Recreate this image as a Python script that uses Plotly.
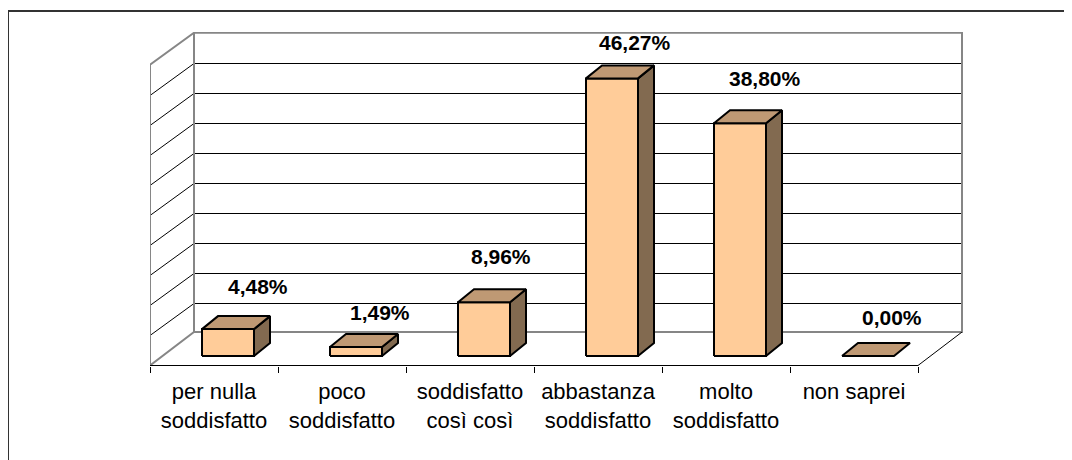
import plotly.graph_objects as go

categories = ["per nulla<br>soddisfatto", "poco<br>soddisfatto", "soddisfatto<br>così così",
              "abbastanza<br>soddisfatto", "molto<br>soddisfatto", "non saprei"]
values = [4.48, 1.49, 8.96, 46.27, 38.80, 0.00]
labels = ["4,48%", "1,49%", "8,96%", "46,27%", "38,80%", "0,00%"]
grid_values = [5, 10, 15, 20, 25, 30, 35, 40, 45]
wall_bottom = 0.25
wall_top = 50.12
label_dx = [13, 7, 0, 6, 8, 7]
label_dy = [30, 22, 33, 23, 32, 26]

# oblique projection: depth z in 0..1 shifts a point right and up on the page
PX_X = 128.0
PX_Y = 6.0
DX = 44.0 / PX_X
DX_BAR = 39.4 / PX_X
DY = 32.0 / PX_Y
BAR_W = 52.0 / 128.0
BAR_SHIFT = 2.3 / 128.0
Z0, Z1 = 9.5 / 32.0, 22.5 / 32.0
n = len(values)


def P(x, y, z, dx=DX):
    return x + z * dx, y + z * DY


def B(x, y, z):
    return P(x, y, z, DX_BAR)


def poly(pts, fill=None, color="#000000", width=1.0):
    xs, ys = zip(*pts)
    return go.Scatter(x=list(xs), y=list(ys), mode="lines", line=dict(color=color, width=width),
                      fill="toself" if fill else None, fillcolor=fill, hoverinfo="skip",
                      showlegend=False, cliponaxis=False)


GREY = "#868686"
fig = go.Figure()

# walls
for g in grid_values:
    fig.add_trace(poly([P(0, g, 0), P(0, g, 1), P(n, g, 1)], color="#000000", width=1))
fig.add_trace(poly([P(0, 0, 0), P(0, wall_top, 0), P(0, wall_top, 1), P(n, wall_top, 1), P(n, wall_bottom, 1),
                    P(0, wall_bottom, 1), P(0, 0, 0)], color=GREY, width=2))
fig.add_trace(poly([P(0, wall_bottom, 1), P(0, wall_top, 1)], color=GREY, width=2))
fig.add_trace(poly([P(n, wall_bottom, 1), P(n, 0, 0)], color="#000000", width=1))
fig.add_trace(poly([P(0, 0, 0), P(n, 0, 0)], color="#000000", width=1))

# bars
for i, v in enumerate(values):
    xl = i + 0.5 - BAR_W / 2 + BAR_SHIFT
    xr = xl + BAR_W
    lc = "#000000"
    if v > 0:
        fig.add_trace(poly([B(xr, 0, Z0), B(xr, 0, Z1), B(xr, v, Z1), B(xr, v, Z0), B(xr, 0, Z0)],
                           fill="#826A50", color=lc, width=2))
        fig.add_trace(poly([B(xl, 0, Z0), B(xr, 0, Z0), B(xr, v, Z0), B(xl, v, Z0), B(xl, 0, Z0)],
                           fill="#FFCC99", color=lc, width=2))
    fig.add_trace(poly([B(xl, v, Z0), B(xr, v, Z0), B(xr, v, Z1), B(xl, v, Z1), B(xl, v, Z0)],
                       fill="#BF9974", color=lc, width=2))
    lx, ly = P(i + 0.5, v, Z1)
    fig.add_annotation(x=lx, y=ly, text="<b>" + labels[i] + "</b>", showarrow=False,
                       yshift=label_dy[i], xshift=label_dx[i],
                       font=dict(family="Liberation Sans", size=21, color="#000000"),
                       xanchor="center", yanchor="middle")

# outer frame
fig.add_shape(type="line", xref="paper", yref="paper", x0=-142 / 813, x1=930 / 813, y0=(334 + 21) / 334, y1=(334 + 21) / 334,
              line=dict(color="#333333", width=2))
fig.add_shape(type="line", xref="paper", yref="paper", x0=-142 / 813, x1=-142 / 813, y0=(334 + 21) / 334, y1=-102 / 334,
              line=dict(color="#333333", width=2))

y_lo = -0.5 / PX_Y
fig.update_layout(
    width=1072, height=460, autosize=False, showlegend=False,
    margin=dict(l=142, r=117, t=24, b=102), paper_bgcolor="#ffffff", plot_bgcolor="#ffffff",
    xaxis=dict(range=[0, 813 / PX_X], tickmode="array", tickvals=[i + 0.5 for i in range(n)], ticktext=categories,
               ticks="", showgrid=False, zeroline=False, showline=False, fixedrange=True,
               tickfont=dict(family="Liberation Sans", size=22, color="#000000"), ticklabelstandoff=10),
    xaxis2=dict(range=[0, 813 / PX_X], overlaying="x", anchor="y", side="bottom", tickmode="array",
                tickvals=list(range(n + 1)), ticktext=[""] * (n + 1), ticks="outside", ticklen=6, tickwidth=1,
                tickcolor="#000000", showgrid=False, zeroline=False, showline=False, fixedrange=True),
    yaxis=dict(range=[y_lo, y_lo + 334 / PX_Y], visible=False, fixedrange=True),
)
fig.add_trace(go.Scatter(x=[0], y=[0], xaxis="x2", mode="markers", marker=dict(opacity=0), hoverinfo="skip", showlegend=False))
fig.write_html("out.html")
